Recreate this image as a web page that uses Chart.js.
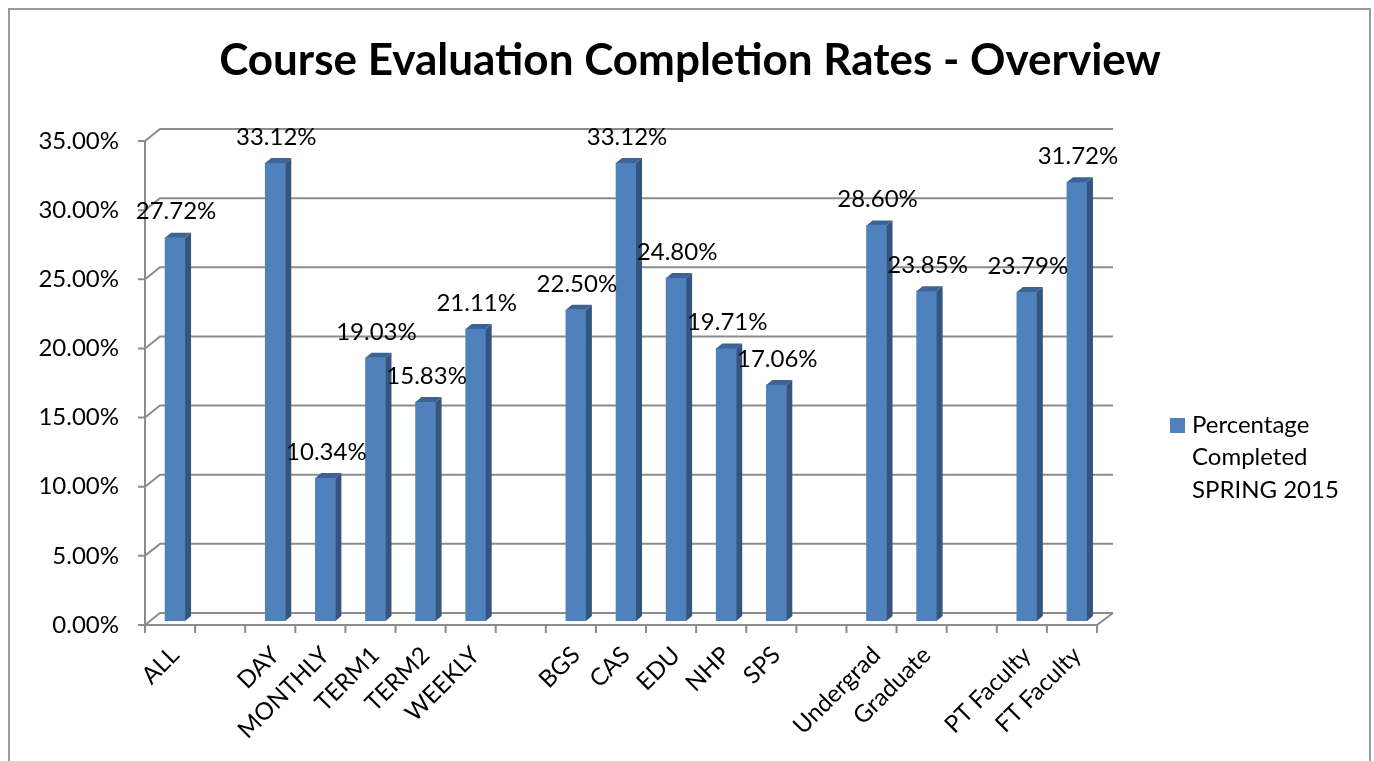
<!DOCTYPE html>
<html>
<head>
<meta charset="utf-8">
<script src="https://cdn.jsdelivr.net/npm/chart.js@4.4.1/dist/chart.umd.min.js"></script>
<style>
  html, body { margin: 0; padding: 0; background: #fff; overflow: hidden; }
  #wrap { position: absolute; left: 0; top: 0; width: 1374px; height: 761px; }
  #frame { position: absolute; left: 8px; top: 8px; width: 1363px; height: 800px; border: 2px solid #9a9a9a; box-sizing: border-box; pointer-events: none; }
</style>
</head>
<body>
<div id="wrap"><canvas id="c" width="1374" height="761"></canvas></div>
<div id="frame"></div>
<script>
const categories = ['ALL', '', 'DAY', 'MONTHLY', 'TERM1', 'TERM2', 'WEEKLY', '', 'BGS', 'CAS', 'EDU', 'NHP', 'SPS', '', 'Undergrad', 'Graduate', '', 'PT Faculty', 'FT Faculty'];
const completion = [27.72, null, 33.12, 10.34, 19.03, 15.83, 21.11, null, 22.50, 33.12, 24.80, 19.71, 17.06, null, 28.60, 23.85, null, 23.79, 31.72];
const seriesLabel = ['Percentage', 'Completed', 'SPRING 2015'];
const yTicks = [0, 5, 10, 15, 20, 25, 30, 35];
const titleText = 'Course Evaluation Completion Rates - Overview';

const FONT = 'Lato';
const FRONT = '#4F81BD', SIDE = '#34557F', TOP = '#3C6394';
const GRID = '#8c8c8c';
const DX_FRONT = -5, DY_FRONT = 4;   // front plane relative to bar plane
const DX_BACK = 10, DY_BACK = -8;    // back wall relative to bar plane
const DEPTH_X = 6, DEPTH_Y = -5;     // bar depth

const wallPlugin = {
  id: 'wall',
  beforeDatasetsDraw(chart) {
    const ctx = chart.ctx, y = chart.scales.y;
    const L = chart.chartArea.left, R = chart.chartArea.right;
    ctx.save();
    ctx.strokeStyle = GRID; ctx.lineWidth = 2; ctx.lineCap = 'butt';
    yTicks.forEach(v => {
      const py = y.getPixelForValue(v);
      ctx.beginPath();
      ctx.moveTo(L + DX_FRONT - 7, py + DY_FRONT);
      ctx.lineTo(L + DX_FRONT, py + DY_FRONT);
      ctx.lineTo(L + DX_BACK, py + DY_BACK);
      ctx.lineTo(R + DX_BACK + 1, py + DY_BACK);
      ctx.stroke();
    });
    const p0 = y.getPixelForValue(0), pTop = y.getPixelForValue(yTicks[yTicks.length - 1]);
    ctx.beginPath();
    ctx.moveTo(L + DX_FRONT, pTop + DY_FRONT);
    ctx.lineTo(L + DX_FRONT, p0 + DY_FRONT);
    ctx.lineTo(R + DX_FRONT, p0 + DY_FRONT);
    ctx.lineTo(R + DX_BACK + 1, p0 + DY_BACK);
    ctx.stroke();
    const n = categories.length;
    for (let i = 0; i <= n; i++) {
      const px = L + (R - L) * i / n + DX_FRONT;
      ctx.beginPath();
      ctx.moveTo(px, p0 + DY_FRONT);
      ctx.lineTo(px, p0 + DY_FRONT + 8);
      ctx.stroke();
    }
    ctx.restore();
  },
  afterDatasetsDraw(chart) {
    const ctx = chart.ctx;
    const meta = chart.getDatasetMeta(0);
    ctx.save();
    meta.data.forEach((bar, i) => {
      if (completion[i] === null) return;
      const left = bar.x - bar.width / 2, right = bar.x + bar.width / 2;
      const top = bar.y, bottom = bar.base;
      ctx.fillStyle = SIDE;
      ctx.beginPath();
      ctx.moveTo(right, top);
      ctx.lineTo(right + DEPTH_X, top + DEPTH_Y);
      ctx.lineTo(right + DEPTH_X, bottom + DEPTH_Y);
      ctx.lineTo(right, bottom);
      ctx.closePath(); ctx.fill();
      ctx.fillStyle = TOP;
      ctx.beginPath();
      ctx.moveTo(left, top);
      ctx.lineTo(left + DEPTH_X, top + DEPTH_Y);
      ctx.lineTo(right + DEPTH_X, top + DEPTH_Y);
      ctx.lineTo(right, top);
      ctx.closePath(); ctx.fill();
      ctx.fillStyle = '#000';
      ctx.font = '24px ' + FONT;
      ctx.textAlign = 'center';
      ctx.textBaseline = 'middle';
      ctx.fillText(completion[i].toFixed(2) + '%', bar.x + 1, top - 26);
    });
    ctx.restore();
  },
  afterDraw(chart) {
    const ctx = chart.ctx;
    ctx.save();
    // title
    ctx.fillStyle = '#000';
    ctx.font = 'bold 44px ' + FONT;
    ctx.textAlign = 'center';
    ctx.textBaseline = 'middle';
    ctx.fillText(titleText, 690, 61);
    // legend
    ctx.fillStyle = FRONT;
    ctx.fillRect(1170, 418, 15, 15);
    ctx.fillStyle = '#000';
    ctx.font = '24px ' + FONT;
    ctx.textAlign = 'left';
    ctx.textBaseline = 'middle';
    seriesLabel.forEach((t, i) => ctx.fillText(t, 1192, 425 + i * 32.5));
    ctx.restore();
  }
};

new Chart(document.getElementById('c'), {
  type: 'bar',
  data: {
    labels: categories,
    datasets: [{
      label: seriesLabel.join(' '),
      data: completion,
      backgroundColor: FRONT,
      borderWidth: 0,
      barThickness: 20
    }]
  },
  options: {
    responsive: false,
    animation: false,
    events: [],
    layout: { padding: { left: 0, right: 272, top: 137, bottom: 0 } },
    plugins: {
      legend: { display: false },
      tooltip: { enabled: false },
      title: { display: false }
    },
    scales: {
      x: {
        grid: { display: false, drawTicks: false },
        border: { display: false },
        ticks: {
          color: '#000', font: { family: FONT, size: 24 },
          minRotation: 45, maxRotation: 45, autoSkip: false, padding: 20
        },
        afterFit(s) { s.height = 140; }
      },
      y: {
        min: 0, max: 35,
        grid: { display: false, drawTicks: false },
        border: { display: false },
        ticks: {
          stepSize: 5, color: '#000', font: { family: FONT, size: 24 },
          padding: 31, labelOffset: 4,
          callback: v => v.toFixed(2) + '%'
        },
        afterFit(s) { s.width = 150; }
      }
    }
  },
  plugins: [wallPlugin]
});
</script>
</body>
</html>
